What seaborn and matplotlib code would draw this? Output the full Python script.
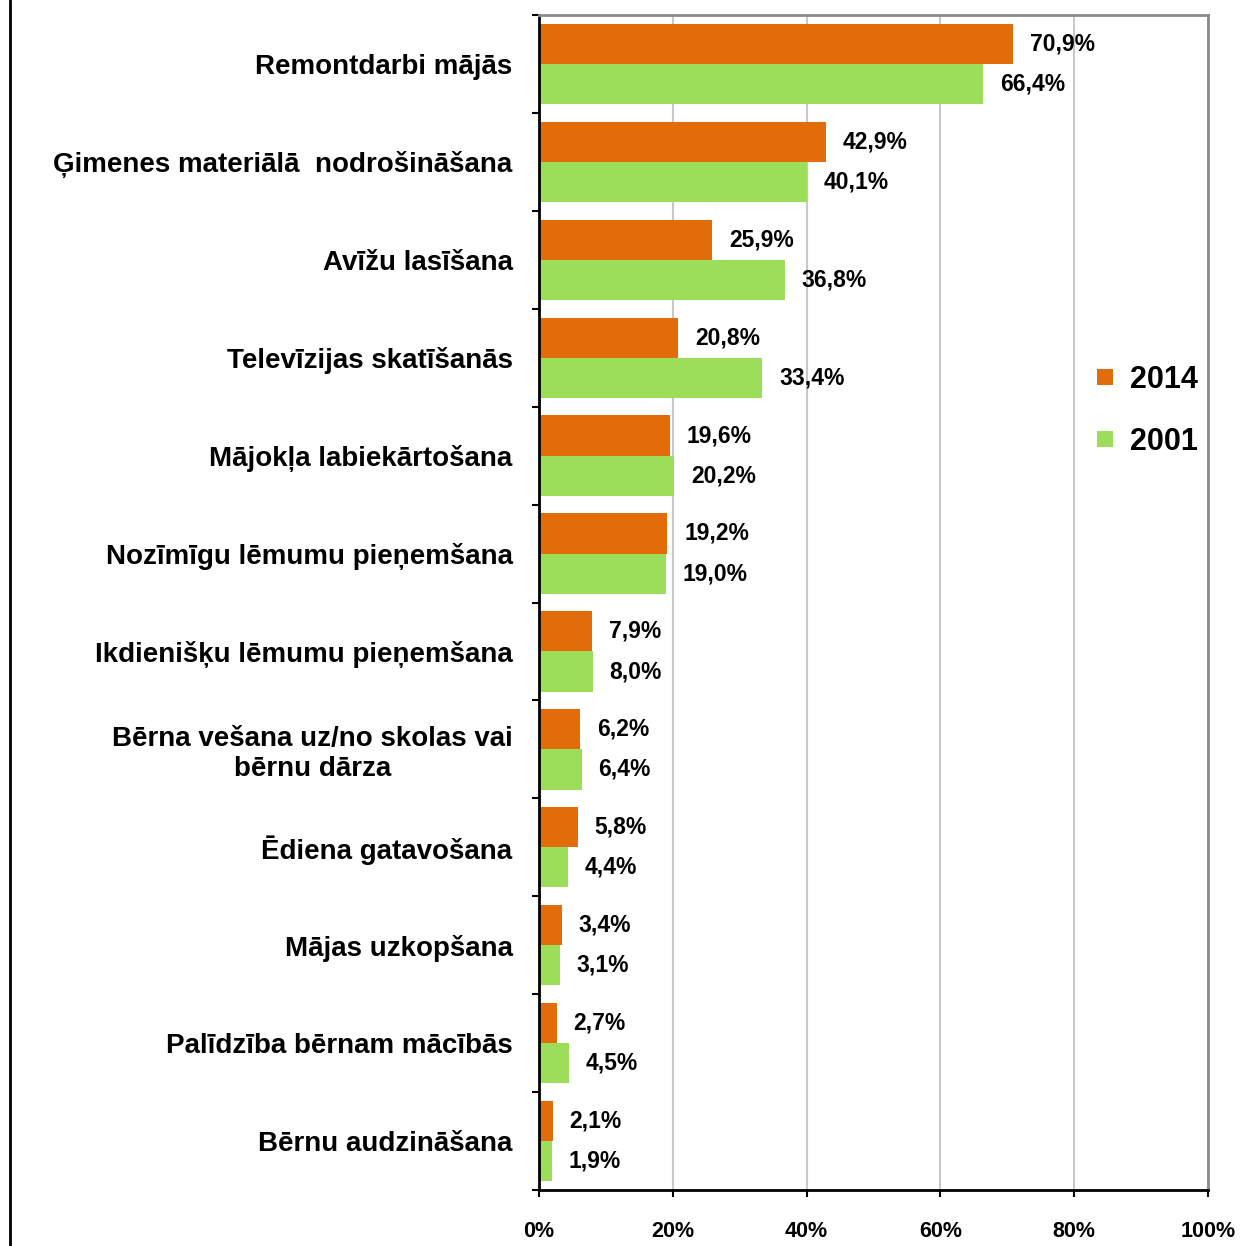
import matplotlib
matplotlib.use("Agg")
import matplotlib.pyplot as plt
from matplotlib.lines import Line2D
import numpy as np
import pandas as pd
import seaborn as sns

# Activities and shares of respondents (%) for the two survey years
categories = [
    "Remontdarbi mājās",
    "Ģimenes materiālā  nodrošināšana",
    "Avīžu lasīšana",
    "Televīzijas skatīšanās",
    "Mājokļa labiekārtošana",
    "Nozīmīgu lēmumu pieņemšana",
    "Ikdienišķu lēmumu pieņemšana",
    "Bērna vešana uz/no skolas vai\nbērnu dārza",
    "Ēdiena gatavošana",
    "Mājas uzkopšana",
    "Palīdzība bērnam mācībās",
    "Bērnu audzināšana",
]
values_2014 = [70.9, 42.9, 25.9, 20.8, 19.6, 19.2, 7.9, 6.2, 5.8, 3.4, 2.7, 2.1]
values_2001 = [66.4, 40.1, 36.8, 33.4, 20.2, 19.0, 8.0, 6.4, 4.4, 3.1, 4.5, 1.9]
years = ["2014", "2001"]
x_ticks = [0, 20, 40, 60, 80, 100]

colors = {"2014": "#E36C0A", "2001": "#9CDD59"}

df = pd.DataFrame({
    "Aktivitāte": categories * 2,
    "Gads": ["2014"] * len(categories) + ["2001"] * len(categories),
    "Procenti": values_2014 + values_2001,
})

sns.set_style("white")
plt.rcParams["font.family"] = ["Liberation Sans", "DejaVu Sans"]
plt.rcParams["font.weight"] = "bold"
plt.rcParams["text.color"] = "black"
plt.rcParams["xtick.labelcolor"] = "black"
plt.rcParams["ytick.labelcolor"] = "black"

fig = plt.figure(figsize=(12.45, 12.46), dpi=100)
ax = fig.add_axes([539 / 1245, 1 - 1190 / 1246, (1208 - 539) / 1245, (1190 - 15) / 1246])

sns.barplot(
    data=df, y="Aktivitāte", x="Procenti", hue="Gads", hue_order=years,
    order=categories, orient="h", palette=colors, width=0.82,
    saturation=1, linewidth=0, legend=False, ax=ax,
)

# value labels with decimal comma
for cont, yr in zip(ax.containers, years):
    vals = values_2014 if yr == "2014" else values_2001
    ax.bar_label(cont, labels=[f"{v:.1f}".replace(".", ",") + "%" for v in vals],
                 padding=12, fontsize=16.5, fontweight="bold", color="black")

ax.set_xlim(0, 100)
ax.set_ylim(len(categories) - 0.5, -0.5)
ax.set_xticks(x_ticks)
ax.set_xticklabels([f"{t}%" for t in x_ticks], fontsize=15.5, fontweight="bold",
                   color="black")
ax.set_xlabel("")
ax.set_ylabel("")

# category labels at group centres, tick marks at group boundaries
ax.set_yticks(range(len(categories)))
ax.set_yticklabels(categories, fontsize=20, fontweight="bold", ha="right",
                   multialignment="center", color="black")
ax.set_yticks(np.arange(-0.5, len(categories), 1), minor=True)
ax.tick_params(axis="y", which="major", length=0, pad=19)
ax.tick_params(axis="y", which="minor", direction="out", length=5, width=1.5,
               color="black", left=True)
ax.tick_params(axis="x", direction="out", length=5, width=1.5, color="black",
               bottom=True, pad=17)

ax.xaxis.grid(True, color="#C8C8C8", linewidth=1.5)
ax.yaxis.grid(False)
ax.set_axisbelow(True)

for side in ["left", "bottom"]:
    ax.spines[side].set_color("black")
    ax.spines[side].set_linewidth(2)
for side in ["top", "right"]:
    ax.spines[side].set_color("#8C8C8C")
    ax.spines[side].set_linewidth(2)

handles = [Line2D([], [], marker="s", linestyle="", markersize=11,
                  markerfacecolor=colors[y], markeredgewidth=0) for y in years]
leg = fig.legend(handles, years, loc="center left",
                 bbox_to_anchor=(1096 / 1245, 1 - 411 / 1246),
                 frameon=False, prop={"size": 22, "weight": "bold"},
                 handlelength=0.6, handletextpad=0.5, labelspacing=1.05,
                 borderpad=0, borderaxespad=0)

# outer frame line on the left edge
fig.add_artist(Line2D([10 / 1245, 10 / 1245], [0, 1], transform=fig.transFigure,
                      color="black", linewidth=2))

fig.savefig("out.png", dpi=100)
